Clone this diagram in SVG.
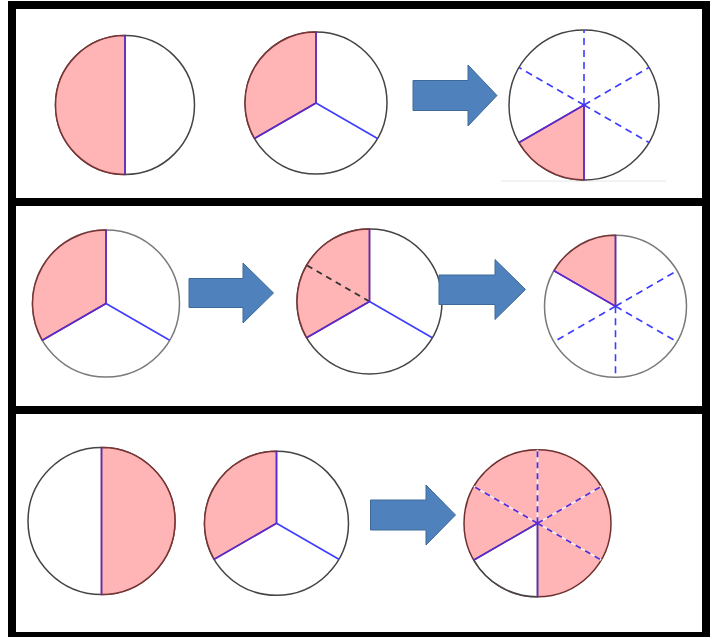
<svg xmlns="http://www.w3.org/2000/svg" width="714" height="637" viewBox="0 0 714 637">
<style>
.bg{fill:#ffffff}
.frame{fill:#000000}
.panel{fill:#ffffff}
.disc{fill:#ffffff;stroke:#444444;stroke-width:1.5}
.disc-g{fill:#ffffff;stroke:#7a7a7a;stroke-width:1.5}
.pink{fill:#ffb5b5;stroke:#7a3434;stroke-width:1.5}
.pinkfull{fill:#ffb5b5;stroke:#6e3030;stroke-width:1.5}
.wsec{fill:#ffffff;stroke:#444444;stroke-width:1.5}
.pl{stroke:#5a2ad6;stroke-width:1.6;fill:none}
.bl{stroke:#3d3dff;stroke-width:1.6;fill:none}
.bd{stroke:#3d3dff;stroke-width:1.6;fill:none;stroke-dasharray:7 5}
.kd{stroke:#333333;stroke-width:2;fill:none;stroke-dasharray:6 5}
.wl{stroke:#f4eeee;stroke-width:1.8;fill:none}
.pd{stroke:#5a2ad6;stroke-width:1.8;fill:none;stroke-dasharray:6 5}
.arrow{fill:#4f81bd;stroke:#3e6a99;stroke-width:1}
</style>
<rect class="bg" x="0" y="0" width="714" height="637"/>
<rect class="frame" x="8" y="1" width="702" height="636"/>
<rect class="panel" x="16" y="9" width="686" height="189"/>
<rect class="panel" x="16" y="206" width="686" height="200"/>
<rect class="panel" x="16" y="414" width="686" height="218"/>

<g id="r1c1">
<circle class="disc" cx="125" cy="105" r="69.5"/>
<path class="pink" d="M125,35.5 A69.5,69.5 0 0 0 125,174.5 Z"/>
<line class="pl" x1="125" y1="35.5" x2="125" y2="174.5"/>
</g>
<g id="r1c2">
<circle class="disc" cx="316" cy="103" r="71"/>
<path class="pink" d="M316,103 L316,32 A71,71 0 0 0 254.51,138.5 Z"/>
<line class="pl" x1="316" y1="103" x2="316" y2="32"/>
<line class="pl" x1="316" y1="103" x2="254.51" y2="138.5"/>
<line class="bl" x1="316" y1="103" x2="377.49" y2="138.5"/>
</g>
<g id="r1c3">
<line x1="501" y1="181" x2="666" y2="181" stroke="#e6e6e6" stroke-width="1"/>
<circle class="disc" cx="584" cy="105" r="75"/>
<path class="pink" d="M584,105 L584,180 A75,75 0 0 1 519.05,142.5 Z"/>
<line class="bd" x1="584" y1="105" x2="584" y2="30"/>
<line class="bd" x1="584" y1="105" x2="519.05" y2="67.5"/>
<line class="bd" x1="584" y1="105" x2="648.95" y2="67.5"/>
<line class="bd" x1="584" y1="105" x2="648.95" y2="142.5"/>
<line class="pl" x1="584" y1="105" x2="584" y2="180"/>
<line class="pl" x1="584" y1="105" x2="519.05" y2="142.5"/>
</g>

<g id="r2c1">
<circle class="disc-g" cx="106" cy="303.5" r="73.5"/>
<path class="pink" d="M106,303.5 L106,230 A73.5,73.5 0 0 0 42.35,340.25 Z"/>
<line class="pl" x1="106" y1="303.5" x2="106" y2="230"/>
<line class="pl" x1="106" y1="303.5" x2="42.35" y2="340.25"/>
<line class="bl" x1="106" y1="303.5" x2="169.65" y2="340.25"/>
</g>
<g id="r2c2">
<circle class="disc" cx="369.5" cy="301.5" r="72.5" stroke="#333333" stroke-width="1.8"/>
<path class="pink" d="M369.5,301.5 L369.5,229 A72.5,72.5 0 0 0 306.71,337.75 Z"/>
<line class="kd" x1="369.5" y1="301.5" x2="306.71" y2="265.25"/>
<line class="pl" x1="369.5" y1="301.5" x2="369.5" y2="229"/>
<line class="pl" x1="369.5" y1="301.5" x2="306.71" y2="337.75"/>
<line class="bl" x1="369.5" y1="301.5" x2="432.29" y2="337.75"/>
</g>
<g id="r2c3">
<circle class="disc-g" cx="615.5" cy="306.3" r="71"/>
<path class="pink" d="M615.5,306.3 L615.5,235.3 A71,71 0 0 0 554.01,270.8 Z"/>
<line class="bd" x1="615.5" y1="306.3" x2="676.99" y2="270.8"/>
<line class="bd" x1="615.5" y1="306.3" x2="676.99" y2="341.8"/>
<line class="bd" x1="615.5" y1="306.3" x2="615.5" y2="377.3"/>
<line class="bd" x1="615.5" y1="306.3" x2="554.01" y2="341.8"/>
<line class="pl" x1="615.5" y1="306.3" x2="615.5" y2="235.3"/>
<line class="pl" x1="615.5" y1="306.3" x2="554.01" y2="270.8"/>
</g>

<g id="r3c1">
<circle class="disc" cx="101.5" cy="521" r="73.5"/>
<path class="pink" d="M101.5,447.5 A73.5,73.5 0 0 1 101.5,594.5 Z"/>
<line class="pl" x1="101.5" y1="447.5" x2="101.5" y2="594.5"/>
</g>
<g id="r3c2">
<circle class="disc" cx="276.5" cy="523.3" r="72"/>
<path class="pink" d="M276.5,523.3 L276.5,451.3 A72,72 0 0 0 214.15,559.3 Z"/>
<line class="pl" x1="276.5" y1="523.3" x2="276.5" y2="451.3"/>
<line class="pl" x1="276.5" y1="523.3" x2="214.15" y2="559.3"/>
<line class="bl" x1="276.5" y1="523.3" x2="338.85" y2="559.3"/>
</g>
<g id="r3c3">
<circle class="pinkfull" cx="537.5" cy="523.3" r="73.5"/>
<path class="wsec" d="M537.5,523.3 L537.5,596.8 A73.5,73.5 0 0 1 473.85,560.05 Z"/>
<line class="wl" x1="537.5" y1="523.3" x2="473.85" y2="486.55"/>
<line class="wl" x1="537.5" y1="523.3" x2="537.5" y2="449.8"/>
<line class="wl" x1="537.5" y1="523.3" x2="601.15" y2="486.55"/>
<line class="wl" x1="537.5" y1="523.3" x2="601.15" y2="560.05"/>
<line class="pd" x1="537.5" y1="523.3" x2="473.85" y2="486.55"/>
<line class="pd" x1="537.5" y1="523.3" x2="537.5" y2="449.8"/>
<line class="pd" x1="537.5" y1="523.3" x2="601.15" y2="486.55"/>
<line class="pd" x1="537.5" y1="523.3" x2="601.15" y2="560.05"/>
<line class="pl" x1="537.5" y1="523.3" x2="537.5" y2="596.8"/>
<line class="pl" x1="537.5" y1="523.3" x2="473.85" y2="560.05"/>
</g>

<g id="connectors">
<polygon class="arrow" points="413,80.5 468,80.5 468,65 497,95.5 468,126 468,110.5 413,110.5"/>
<polygon class="arrow" points="189,278.5 243,278.5 243,263 273.5,293 243,323 243,307.5 189,307.5"/>
<polygon class="arrow" points="439,275 495,275 495,259.5 525.5,289.5 495,319.5 495,304.5 439,304.5"/>
<polygon class="arrow" points="370.5,500 426,500 426,485 455.5,515 426,545 426,530 370.5,530"/>
</g>
</svg>
